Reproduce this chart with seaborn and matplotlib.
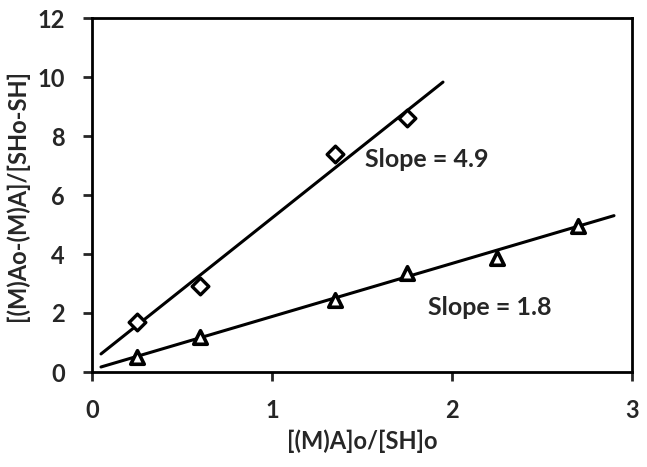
import numpy as np
import pandas as pd
import matplotlib
matplotlib.use("Agg")
import matplotlib.pyplot as plt
import seaborn as sns

# data
diamond_x = [0.25, 0.6, 1.35, 1.75]
diamond_y = [1.7, 2.9, 7.4, 8.6]
triangle_x = [0.25, 0.6, 1.35, 1.75, 2.25, 2.7]
triangle_y = [0.5, 1.2, 2.45, 3.35, 3.85, 4.95]

# fitted lines: slope, intercept, x range
fit1 = {"slope": 4.85, "intercept": 0.37, "x": [0.05, 1.95]}
fit2 = {"slope": 1.80, "intercept": 0.08, "x": [0.05, 2.9]}

x_ticks = [0, 1, 2, 3]
y_ticks = [0, 2, 4, 6, 8, 10, 12]

sns.set_style("ticks")
plt.rcParams["font.family"] = ["Lato", "DejaVu Sans"]
plt.rcParams["font.weight"] = "bold"

fig = plt.figure(figsize=(6.47, 4.67), dpi=100)
ax = fig.add_axes([92 / 647, 1 - 372 / 467, 540 / 647, 354 / 467])

for fit in (fit1, fit2):
    xs = np.array(fit["x"])
    df = pd.DataFrame({"x": xs, "y": fit["slope"] * xs + fit["intercept"]})
    sns.lineplot(data=df, x="x", y="y", color="black", linewidth=2.2, ax=ax)

d1 = pd.DataFrame({"x": diamond_x, "y": diamond_y})
d2 = pd.DataFrame({"x": triangle_x, "y": triangle_y})
sns.scatterplot(data=d1, x="x", y="y", marker="D", s=72, facecolor="white",
                edgecolor="black", linewidth=2.4, ax=ax, zorder=3)
sns.scatterplot(data=d2, x="x", y="y", marker="^", s=95, facecolor="white",
                edgecolor="black", linewidth=2.6, ax=ax, zorder=3)

ax.text(1.517, 6.95, "Slope = 4.9", fontsize=18, fontweight="bold", va="baseline")
ax.text(1.867, 1.93, "Slope = 1.8", fontsize=18, fontweight="bold", va="baseline")

ax.set_xlim(0, 3)
ax.set_ylim(0, 12)
ax.set_xticks(x_ticks)
ax.set_yticks(y_ticks)
ax.tick_params(direction="out", length=6.5, width=2, labelsize=17, pad=13)
for lab in ax.get_xticklabels() + ax.get_yticklabels():
    lab.set_fontweight("bold")
for sp in ax.spines.values():
    sp.set_visible(True)
    sp.set_linewidth(2)
    sp.set_color("black")

ax.set_xlabel("[(M)A]o/[SH]o", fontsize=17, fontweight="bold", labelpad=5)
ax.set_ylabel("[(M)Ao-(M)A]/[SHo-SH]", fontsize=17, fontweight="bold", labelpad=6)

fig.savefig("out.png", dpi=100)
